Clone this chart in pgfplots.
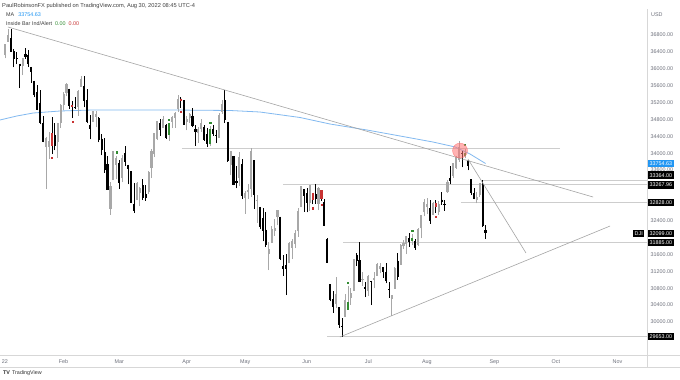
\documentclass[border=0pt]{standalone}
\usepackage{pgfplots}
\pgfplotsset{compat=1.18}
\usepackage{pgfplotstable}
\usepackage{fontspec}
\setmainfont{Liberation Sans}
\definecolor{upc}{RGB}{168,168,168}
\definecolor{hl}{RGB}{205,205,205}
\definecolor{tl}{RGB}{165,165,165}
\definecolor{mablue}{RGB}{130,185,240}
\definecolor{tvblue}{RGB}{33,150,243}
\definecolor{txt}{RGB}{110,113,124}
\definecolor{ibgreen}{RGB}{50,140,50}
\definecolor{ibred}{RGB}{200,50,50}
\definecolor{frame}{RGB}{215,215,215}
\pgfplotsset{colormap={ud}{color=(black) color=(black) color=(upc) color=(upc)}}

\pgfplotstableread{
i o h l c
0 36322 36596 36246 36585
1 36636 36934 36636 36800
2 36722 36953 36400 36407
3 36409 36464 36033 36236
4 36250 36386 36107 36232
5 36123 36123 35538 36068
6 36070 36258 35849 36252
7 36357 36498 36235 36290
8 36331 36446 36038 36114
9 36042 36042 35674 35912
10 35720 35720 35323 35369
11 35453 35622 35016 35029
12 35179 35503 34683 34715
13 34703 34884 34258 34265
14 34144 34380 33150 34365
15 34149 34506 33872 34297
16 34482 34849 33980 34168
17 34431 34714 34067 34160
18 34273 34725 33887 34725
19 34709 35165 34597 35132
20 35150 35455 35013 35405
21 35436 35671 35346 35629
22 35530 35530 35049 35111
23 35150 35238 34833 35090
24 35096 35322 35046 35092
25 35097 35487 34886 35463
26 35571 35825 35571 35768
27 35589 35824 35086 35242
28 35257 35517 34708 34738
29 34674 34909 34327 34566
30 34741 34989 34741 34989
31 34862 35007 34609 34935
32 34831 34866 34256 34312
33 34343 34453 33949 34079
34 34019 34371 33537 33597
35 33747 33924 33131 33132
36 32683 33321 32540 33224
37 33362 34063 33362 34059
38 33725 33934 33378 33893
39 33760 33838 33151 33295
40 33407 33951 33306 33891
41 34000 34160 33704 33795
42 33729 33729 33259 33615
43 33568 33568 32818 32818
44 32800 33300 32578 32633
45 32898 33320 32898 33286
46 33058 33192 32740 33174
47 33236 33381 32890 32944
48 33041 33249 32877 32945
49 33089 33572 33037 33544
50 33651 34099 33409 34063
51 33979 34480 33904 34481
52 34330 34755 34308 34755
53 34718 34811 34412 34553
54 34598 34871 34598 34808
55 34657 34702 34340 34359
56 34439 34709 34298 34708
57 34739 34876 34590 34861
58 34829 34971 34605 34955
59 35057 35372 34986 35294
60 35290 35323 35067 35229
61 35248 35253 34677 34678
62 34742 34874 34539 34818
63 34829 34951 34717 34922
64 34882 35064 34610 34641
65 34577 34669 34174 34497
66 34473 34621 34251 34583
67 34565 34817 34510 34721
68 34618 34677 34292 34309
69 34445 34590 34145 34220
70 34207 34638 34166 34565
71 34569 34663 34407 34452
72 34412 34547 34236 34412
73 34364 34955 34364 34912
74 34982 35268 34930 35161
75 35258 35492 34713 34793
76 34749 34749 33791 33811
77 33719 34049 33479 34049
78 33934 33943 33239 33240
79 33348 33700 33164 33302
80 33420 34022 33215 33916
81 33754 33850 32913 32977
82 32942 33093 32560 33061
83 33075 33267 32914 33128
84 33153 34117 32962 34061
85 33830 33830 32674 32998
86 32880 33018 32352 32899
87 32727 32727 32197 32246
88 32457 32705 31910 32161
89 32187 32609 31785 31834
90 31607 31897 31228 31730
91 31874 32278 31874 32197
92 32159 32435 32046 32223
93 32487 32655 32294 32655
94 32494 32494 31465 31490
95 31334 31590 31090 31253
96 31344 31621 30636 31262
97 31386 31898 31386 31880
98 31760 31964 31488 31929
99 31849 32178 31749 32120
100 32155 32700 32020 32637
101 32717 33213 32717 33213
102 33156 33156 32616 32990
103 33057 33167 32599 32813
104 32815 33249 32633 33248
105 33059 33059 32788 32900
106 33034 33272 32796 32916
107 32802 33199 32651 33180
108 33127 33127 32868 32910
109 32844 32919 32269 32273
110 31977 32000 31392 31393
111 30889 30889 30491 30517
112 30545 30746 30215 30365
113 30431 31065 30322 30669
114 30350 30350 29864 29927
115 29904 30101 29653 29889
116 30129 30654 30129 30530
117 30290 30846 30294 30484
118 30571 30794 30412 30677
119 30746 31501 30746 31501
120 31590 31628 31330 31439
121 31463 31885 30946 30947
122 30995 31180 30862 31029
123 30824 30953 30587 30775
124 30737 31106 30611 31097
125 30982 30982 30401 30968
126 30990 31185 30798 31037
127 31092 31407 31090 31385
128 31250 31400 31149 31338
129 31300 31300 31053 31173
130 31178 31397 30913 30982
131 30790 30940 30578 30773
132 30555 30627 30143 30630
133 30784 31300 30784 31289
134 31446 31632 31005 31073
135 31358 31836 31358 31827
136 31790 31950 31725 31875
137 31843 32037 31607 32037
138 32000 32117 31783 31900
139 31917 32073 31817 31990
140 31919 31964 31715 31762
141 31832 32232 31799 32198
142 32217 32542 31980 32530
143 32605 32910 32501 32845
144 32729 32937 32553 32798
145 32692 32879 32329 32397
146 32541 32845 32524 32813
147 32813 32894 32584 32727
148 32605 32878 32546 32803
149 32900 33091 32782 32833
150 32797 32879 32635 32775
151 33072 33367 33060 33309
152 33409 33685 33259 33336
153 33464 33762 33413 33761
154 33653 33938 33634 33913
155 33836 34281 33795 34152
156 33983 34054 33665 33981
157 33922 34110 33878 33999
158 33836 33837 33591 33707
159 33380 33380 33005 33064
160 33067 33171 32903 32910
161 32881 33086 32809 32970
162 33013 33292 32960 33292
163 33267 33364 32245 32283
164 32176 32299 31966 32099
}\candles

% inside bars (bullish / bearish)
\pgfplotstableread{
i o c
56 34439 34708
70 34207 34565
117 30290 30484
139 31917 31990
157 33922 33999
}\ibgreen
\pgfplotstableread{
i o c
16 34482 34168
23 35150 35090
60 35290 35229
105 33059 32900
108 33127 32910
147 32813 32727
}\ibred

\newcommand{\sz}{\fontsize{5.4}{6}\selectfont}

\begin{document}
\begin{tikzpicture}
\useasboundingbox (0pt,-25pt) rectangle (680pt,355pt);
\fill[white] (0pt,-25pt) rectangle (680pt,355pt);
\begin{axis}[
  at={(0pt,0pt)}, anchor=south west,
  width=647pt, height=345pt, scale only axis,
  xmin=-1.7, xmax=219.1, ymin=29218, ymax=37392,
  clip=false,
  axis line style={draw=none},
  major tick length=0pt,
  colormap name=ud, point meta min=0, point meta max=1,
  xtick={0,20,39,62,82,103,124,144,167,188,209},
  xticklabels={22,Feb,Mar,Apr,May,Jun,Jul,Aug,Sep,Oct,Nov},
  xticklabel style={font=\sz, text=txt, yshift=-1pt},
  ytick={30000,30400,30800,31200,31600,32400,33600,34000,34400,34800,35200,35600,36000,36400,36800},
  yticklabel pos=right,
  scaled y ticks=false,
  /pgf/number format/assume math mode=true,
  yticklabel={\pgfmathprintnumber[fixed,fixed zerofill,precision=2,1000 sep={}]{\tick}},
  yticklabel style={font=\sz, text=txt, anchor=west, xshift=0pt},
]
% horizontal levels
\addplot[hl, line width=0.8pt] coordinates {(60.4,34117) (189.4,34117)};
\addplot[hl, line width=0.8pt] coordinates {(163,33364) (219.1,33364)};
\addplot[hl, line width=0.8pt] coordinates {(94.9,33268) (219.1,33268)};
\addplot[hl, line width=0.8pt] coordinates {(155.6,32828) (219.1,32828)};
\addplot[hl, line width=0.8pt] coordinates {(115.4,31885) (219.1,31885)};
\addplot[hl, line width=0.8pt] coordinates {(110,29653) (219.1,29653)};
% 200 MA
\addplot[mablue, line width=0.8pt] coordinates {
(-1.7,34786) (4,34880) (9.6,34951) (18.8,34999) (30,35023) (56.3,35023) (76.8,35011)
(87,34975) (100.7,34845) (110.9,34691) (123.5,34549) (134.8,34407) (146,34265)
(153.6,34147) (158.7,33980) (164,33755)};
% wicks
\addplot[quiver={u=0, v={\thisrow{h}-\thisrow{l}}, colored,
    every arrow/.append style={line width=0.6pt}},
  point meta={\thisrow{c}>\thisrow{o}}]
  table[x=i, y=l]{\candles};
% bodies
\addplot[quiver={u=0, v={\thisrow{c}-\thisrow{o}+(\thisrow{c}==\thisrow{o})*15}, colored,
    every arrow/.append style={line width=2.1pt}},
  point meta={\thisrow{c}>\thisrow{o}}]
  table[x=i, y=o]{\candles};
% inside bars
\addplot[ibgreen, quiver={u=0, v={\thisrow{c}-\thisrow{o}},
    every arrow/.append style={line width=2.1pt, draw=ibgreen}}]
  table[x=i, y=o]{\ibgreen};
\addplot[ibred, quiver={u=0, v={\thisrow{c}-\thisrow{o}},
    every arrow/.append style={line width=2.1pt, draw=ibred}}]
  table[x=i, y=o]{\ibred};
\addplot[only marks, mark=square*, mark size=0.6pt, ibgreen] coordinates {
(38,34024) (56,34799) (70,34728) (117,30936) (139,32163) (157,34200)};
\addplot[only marks, mark=square*, mark size=0.6pt, ibred] coordinates {
(16,33890) (23,34743) (60,34977) (105,32698) (108,32778) (147,32494)};
% trend lines
\addplot[tl, line width=0.6pt] coordinates {(1.02,36989) (200.7,32961)};
\addplot[tl, line width=0.6pt] coordinates {(114.3,29645) (206.5,32274)};
\addplot[tl, line width=0.6pt] coordinates {(158.0,33862) (177.8,31635)};
% circle
\addplot[only marks, mark=*, mark size=7.5pt, mark options={fill=red!55!white, draw=red!60!white, fill opacity=0.55, draw opacity=0.7}] coordinates {(155.3,34060)};
% price labels
\tikzset{plab/.style={anchor=west, fill=black, text=white, font=\sz, inner xsep=1.5pt, inner ysep=0.6pt, minimum height=7.6pt}}
\node[plab, fill=tvblue] at (axis cs:219.1,33754.63) [xshift=1pt] {33754.63};
\node[plab] at (axis cs:219.1,33478) [xshift=1pt] {33364.00};
\node[plab] at (axis cs:219.1,33246) [xshift=1pt] {33267.96};
\node[plab] at (axis cs:219.1,32828) [xshift=1pt] {32828.00};
\node[plab] at (axis cs:219.1,32099) [xshift=1pt] {32099.00};
\node[plab] at (axis cs:219.1,31885) [xshift=1pt] {31885.00};
\node[plab] at (axis cs:219.1,29653) [xshift=1pt] {29653.00};
\node[plab, anchor=east] at (axis cs:219.1,32099) [xshift=-2.5pt] {DJI};
\end{axis}
% frame lines
\draw[frame, line width=0.6pt] (0pt,0pt) -- (680pt,0pt);
\draw[frame, line width=0.6pt] (0pt,-12pt) -- (680pt,-12pt);
\draw[frame, line width=0.6pt] (647pt,-12pt) -- (647pt,346pt);
% header
\node[anchor=west, font=\fontsize{5.7}{6}\selectfont, text=black!75, inner sep=0pt] at (2pt,349pt) {PaulRobinsonFX published on TradingView.com, Aug 30, 2022 08:45 UTC-4};
\node[anchor=west, font=\sz, text=black!75, inner sep=0pt] at (6pt,340pt) {MA\hspace{4pt}\textcolor{tvblue}{33754.63}};
\node[anchor=west, font=\sz, text=black!75, inner sep=0pt] at (6pt,331.5pt) {Inside Bar Ind/Alert\hspace{3pt}\textcolor{ibgreen}{0.00}\hspace{3pt}\textcolor{ibred}{0.00}};
\node[anchor=west, font=\sz, text=txt, inner sep=0pt] at (651pt,340pt) {USD};
\node[anchor=west, font=\sz, text=black!80, inner sep=0pt] at (3pt,-18pt) {\textbf{TV}\hspace{2pt}TradingView};
\end{tikzpicture}
\end{document}
